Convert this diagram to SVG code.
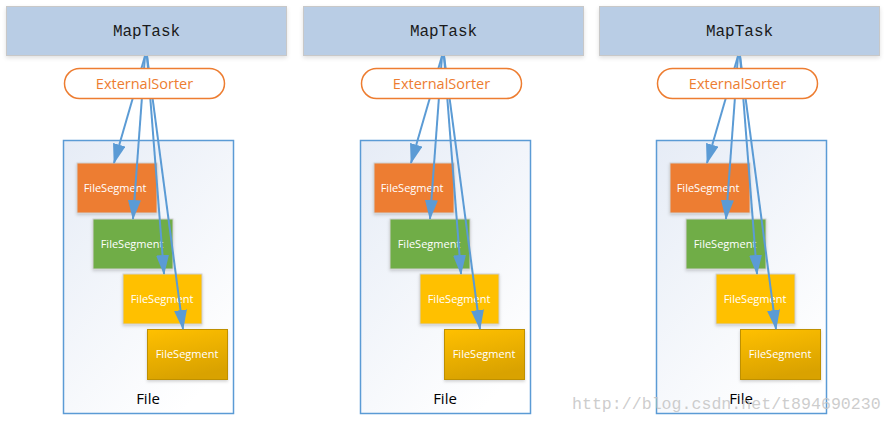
<svg xmlns="http://www.w3.org/2000/svg" width="893" height="424" viewBox="0 0 893 424">
<defs>
<style>
.task{fill:#B9CDE5;stroke:#C8C8C8;stroke-width:1}
.task-t{font-family:"Liberation Mono","DejaVu Sans Mono",monospace;font-size:16px;fill:#1a1a1a;text-anchor:middle}
.pill{fill:#FFFFFF;stroke:#ED7D31;stroke-width:1.5}
.pill-t{font-family:"Open Sans","Liberation Sans",sans-serif;font-size:14.5px;fill:#ED7D31;text-anchor:middle}
.file{fill:url(#fileGrad);stroke:#5B9BD5;stroke-width:1.5}
.file-t{font-family:"Open Sans","Liberation Sans",sans-serif;font-size:15px;fill:#000;text-anchor:middle}
.seg{stroke:#CFCFCF;stroke-width:1;filter:url(#sh)}
.seg-t{font-family:"Open Sans","Liberation Sans",sans-serif;font-size:11px;fill:#FFFFFF;text-anchor:middle}
.s1{fill:#ED7D31}
.s2{fill:#70AD47}
.s3{fill:#FFC000}
.s4{fill:url(#goldGrad);stroke:#BF9000}
.conn{fill:none;stroke:#5B9BD5;stroke-width:2;marker-end:url(#arr)}
.wm{font-family:"Liberation Mono","DejaVu Sans Mono",monospace;font-size:16.6px;fill:#C4C4C4;fill-opacity:0.85}
</style>
<linearGradient id="fileGrad" x1="0" y1="0" x2="0.7" y2="1">
<stop offset="0" stop-color="#E6ECF6"/>
<stop offset="1" stop-color="#FFFFFF"/>
</linearGradient>
<linearGradient id="goldGrad" x1="0" y1="0" x2="0.3" y2="1">
<stop offset="0" stop-color="#FFC000"/>
<stop offset="1" stop-color="#D9A200"/>
</linearGradient>
<filter id="sh" x="-10%" y="-10%" width="125%" height="130%">
<feDropShadow dx="0" dy="1.5" stdDeviation="1.5" flood-color="#000" flood-opacity="0.18"/>
</filter>
<filter id="sh2" x="-5%" y="-10%" width="110%" height="140%">
<feDropShadow dx="0" dy="2" stdDeviation="2" flood-color="#000" flood-opacity="0.12"/>
</filter>
<marker id="arr" viewBox="0 0 20 13" refX="19" refY="6.5" markerWidth="20" markerHeight="13" markerUnits="userSpaceOnUse" orient="auto">
<path d="M0,0 L20,6.5 L0,13 Z" fill="#5B9BD5"/>
</marker>
</defs>
<rect width="893" height="424" fill="#FFFFFF"/>

<!-- Panel 1 -->
<g id="panel1">
<g id="maptask1"><rect class="task" x="6.5" y="6.5" width="280" height="49" filter="url(#sh2)"/><text class="task-t" x="146.5" y="36">MapTask</text></g>
<g id="file1"><rect class="file" x="63.5" y="140.5" width="170" height="273"/><text class="file-t" x="148" y="404">File</text></g>
<g id="seg1a"><rect class="seg s1" x="77" y="163" width="80" height="50"/><text class="seg-t" x="115" y="192">FileSegment</text></g>
<g id="seg1b"><rect class="seg s2" x="93" y="219" width="80" height="50"/><text class="seg-t" x="132" y="248">FileSegment</text></g>
<g id="seg1c"><rect class="seg s3" x="123" y="274" width="79" height="50"/><text class="seg-t" x="162" y="303">FileSegment</text></g>
<g id="seg1d"><rect class="seg s4" x="147.5" y="329.5" width="80" height="50"/><text class="seg-t" x="187" y="358">FileSegment</text></g>
</g>

<!-- Panel 2 -->
<g id="panel2" transform="translate(297,0)">
<g id="maptask2"><rect class="task" x="6.5" y="6.5" width="280" height="49" filter="url(#sh2)"/><text class="task-t" x="146.5" y="36">MapTask</text></g>
<g id="file2"><rect class="file" x="63.5" y="140.5" width="170" height="273"/><text class="file-t" x="148" y="404">File</text></g>
<g id="seg2a"><rect class="seg s1" x="77" y="163" width="80" height="50"/><text class="seg-t" x="115" y="192">FileSegment</text></g>
<g id="seg2b"><rect class="seg s2" x="93" y="219" width="80" height="50"/><text class="seg-t" x="132" y="248">FileSegment</text></g>
<g id="seg2c"><rect class="seg s3" x="123" y="274" width="79" height="50"/><text class="seg-t" x="162" y="303">FileSegment</text></g>
<g id="seg2d"><rect class="seg s4" x="147.5" y="329.5" width="80" height="50"/><text class="seg-t" x="187" y="358">FileSegment</text></g>
</g>

<!-- Panel 3 -->
<g id="panel3" transform="translate(593,0)">
<g id="maptask3"><rect class="task" x="6.5" y="6.5" width="280" height="49" filter="url(#sh2)"/><text class="task-t" x="146.5" y="36">MapTask</text></g>
<g id="file3"><rect class="file" x="63.5" y="140.5" width="170" height="273"/><text class="file-t" x="148" y="404">File</text></g>
<g id="seg3a"><rect class="seg s1" x="77" y="163" width="80" height="50"/><text class="seg-t" x="115" y="192">FileSegment</text></g>
<g id="seg3b"><rect class="seg s2" x="93" y="219" width="80" height="50"/><text class="seg-t" x="132" y="248">FileSegment</text></g>
<g id="seg3c"><rect class="seg s3" x="123" y="274" width="79" height="50"/><text class="seg-t" x="162" y="303">FileSegment</text></g>
<g id="seg3d"><rect class="seg s4" x="147.5" y="329.5" width="80" height="50"/><text class="seg-t" x="187" y="358">FileSegment</text></g>
</g>

<!-- Connectors -->
<g id="connectors">
<g transform="translate(0,0)">
<path class="conn" d="M145,56 L114,163"/>
<path class="conn" d="M145,56 L133,219"/>
<path class="conn" d="M147,56 L164,274"/>
<path class="conn" d="M147,56 L183,329"/>
</g>
<g transform="translate(297,0)">
<path class="conn" d="M145,56 L114,163"/>
<path class="conn" d="M145,56 L133,219"/>
<path class="conn" d="M147,56 L164,274"/>
<path class="conn" d="M147,56 L183,329"/>
</g>
<g transform="translate(593,0)">
<path class="conn" d="M145,56 L114,163"/>
<path class="conn" d="M145,56 L133,219"/>
<path class="conn" d="M147,56 L164,274"/>
<path class="conn" d="M147,56 L183,329"/>
</g>
</g>

<!-- ExternalSorter pills (over the connectors) -->
<g id="sorter1"><rect class="pill" x="64.5" y="68.5" width="160" height="30" rx="15"/><text class="pill-t" x="144.5" y="88.5">ExternalSorter</text></g>
<g id="sorter2"><rect class="pill" x="361.5" y="68.5" width="160" height="30" rx="15"/><text class="pill-t" x="441.5" y="88.5">ExternalSorter</text></g>
<g id="sorter3"><rect class="pill" x="657.5" y="68.5" width="160" height="30" rx="15"/><text class="pill-t" x="737.5" y="88.5">ExternalSorter</text></g>

<text class="wm" x="572" y="409">http://blog.csdn.net/t894690230</text>
</svg>
